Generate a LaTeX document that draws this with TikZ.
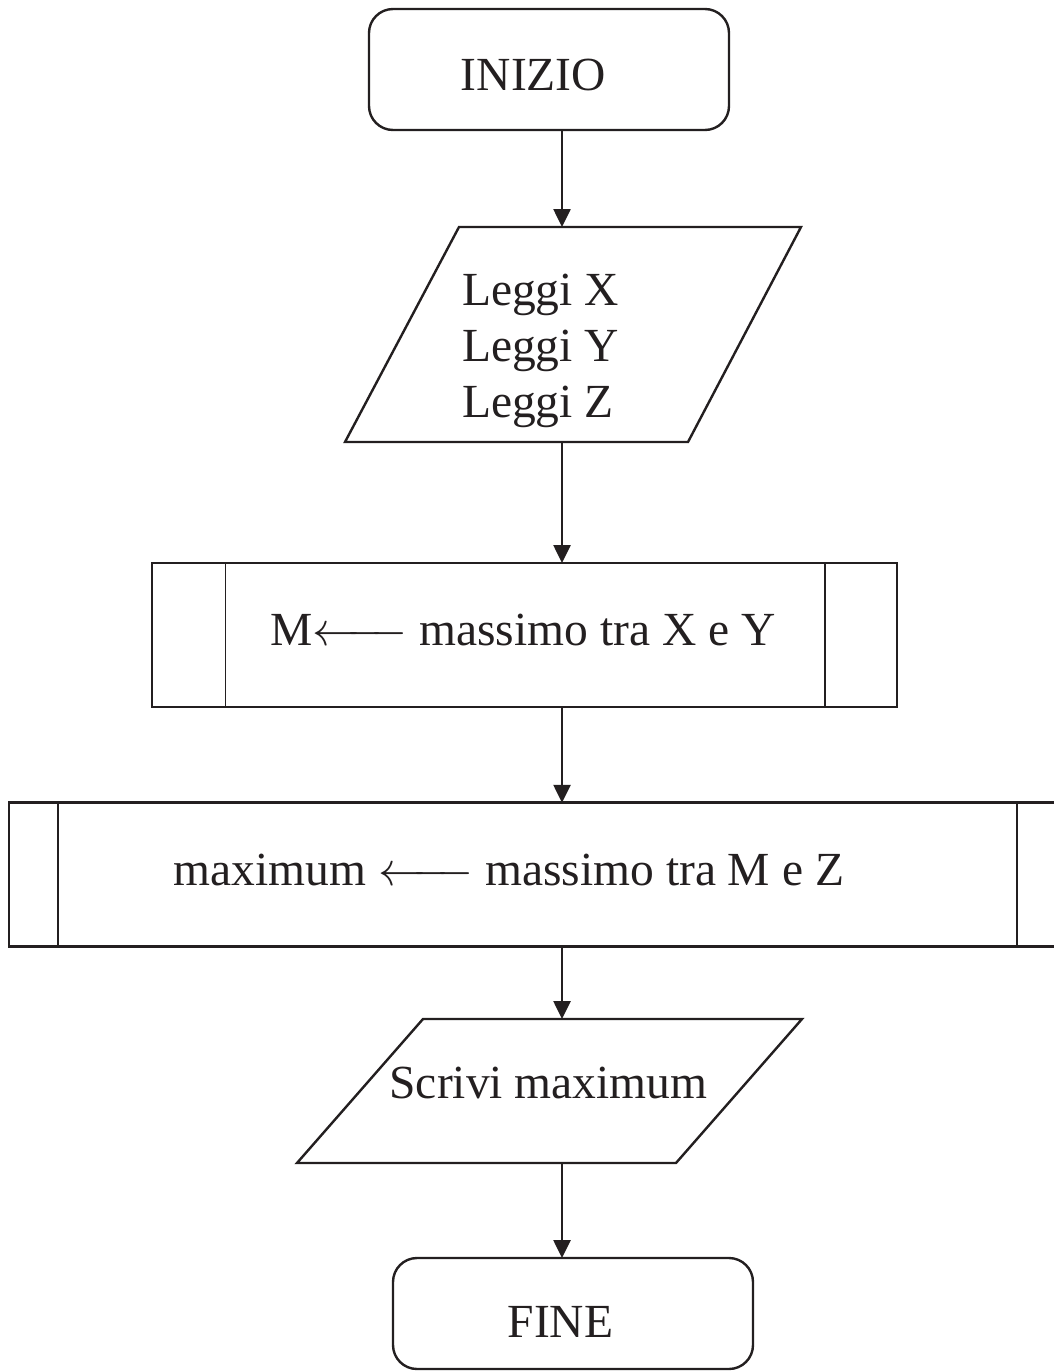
\RequirePackage{fix-cm}
\documentclass[tikz,border=0pt]{standalone}
\usepackage{fontspec}
\setmainfont{Liberation Serif}
\usetikzlibrary{arrows.meta}
\definecolor{ink}{HTML}{231F20}
% long left arrow used inside the assignment texts
\newcommand{\assignarrow}{$\mathrel{\leftarrow\mkern-5mu\relbar\mkern-5mu\relbar}$}
\begin{document}
\begin{tikzpicture}[x=1pt,y=-1pt,
  every node/.style={inner sep=0pt,outer sep=0pt,text=ink},
  txt/.style={font=\fontsize{47.5}{56}\selectfont},
  term/.style={draw=ink,line width=2.4pt,rounded corners=24pt},
  proc/.style={draw=ink,line width=2.8pt},
  procbar/.style={draw=ink,line width=1.4pt},
  io/.style={draw=ink,line width=2.4pt,line join=miter},
  flow/.style={draw=ink,line width=2.6pt,-{Triangle[length=18pt,width=17pt]}}]
\useasboundingbox (0,0) rectangle (1053,1371);

% start terminal
\node[term,minimum width=360pt,minimum height=121pt] (start) at (549,69.5) {};
\node[txt,anchor=base] (starttxt) at (533.5,90) {INIZIO};

% input parallelogram
\coordinate (p1top) at (562,227);
\coordinate (p1bot) at (562,442);
\draw[io] (459,227) -- (801,227) -- (688,442) -- (345,442) -- cycle;
\node[txt,anchor=base west] (readx) at (462,305) {Leggi X};
\node[txt,anchor=base west] (ready) at (462,361) {Leggi Y};
\node[txt,anchor=base west] (readz) at (462,417) {Leggi Z};

% first predefined process
\node[proc,minimum width=745pt,minimum height=144pt] (proc1) at (524.5,635) {};
\draw[procbar] ([xshift=73.5pt]proc1.north west) -- ([xshift=73.5pt]proc1.south west);
\draw[procbar] ([xshift=-72pt]proc1.north east) -- ([xshift=-72pt]proc1.south east);
\node[txt,anchor=base] (proc1txt) at (523,645) {M\assignarrow\ massimo tra X e Y};

% second predefined process
\node[proc,minimum width=1057pt,minimum height=143.5pt] (proc2) at (537.5,874.5) {};
\draw[procbar] ([xshift=49pt]proc2.north west) -- ([xshift=49pt]proc2.south west);
\draw[procbar] ([xshift=-49pt]proc2.north east) -- ([xshift=-49pt]proc2.south east);
\node[txt,anchor=base] (proc2txt) at (509,885) {maximum \assignarrow\ massimo tra M e Z};

% output parallelogram
\coordinate (p2top) at (562,1019);
\coordinate (p2bot) at (562,1163);
\draw[io] (423,1019) -- (802,1019) -- (676,1163) -- (297,1163) -- cycle;
\node[txt,anchor=base] (writetxt) at (548.5,1098) {Scrivi maximum};

% end terminal
\node[term,minimum width=360pt,minimum height=111pt] (stop) at (573,1313.5) {};
\node[txt,anchor=base] (stoptxt) at (560.5,1337) {FINE};

% connectors
\draw[flow] (start.south -| p1top) -- (p1top);
\draw[flow] (p1bot) -- (p1bot |- proc1.north);
\draw[flow] (p1bot |- proc1.south) -- (p1bot |- proc2.north);
\draw[flow] (p1bot |- proc2.south) -- (p2top);
\draw[flow] (p2bot) -- (p2bot |- stop.north);
\end{tikzpicture}
\end{document}
